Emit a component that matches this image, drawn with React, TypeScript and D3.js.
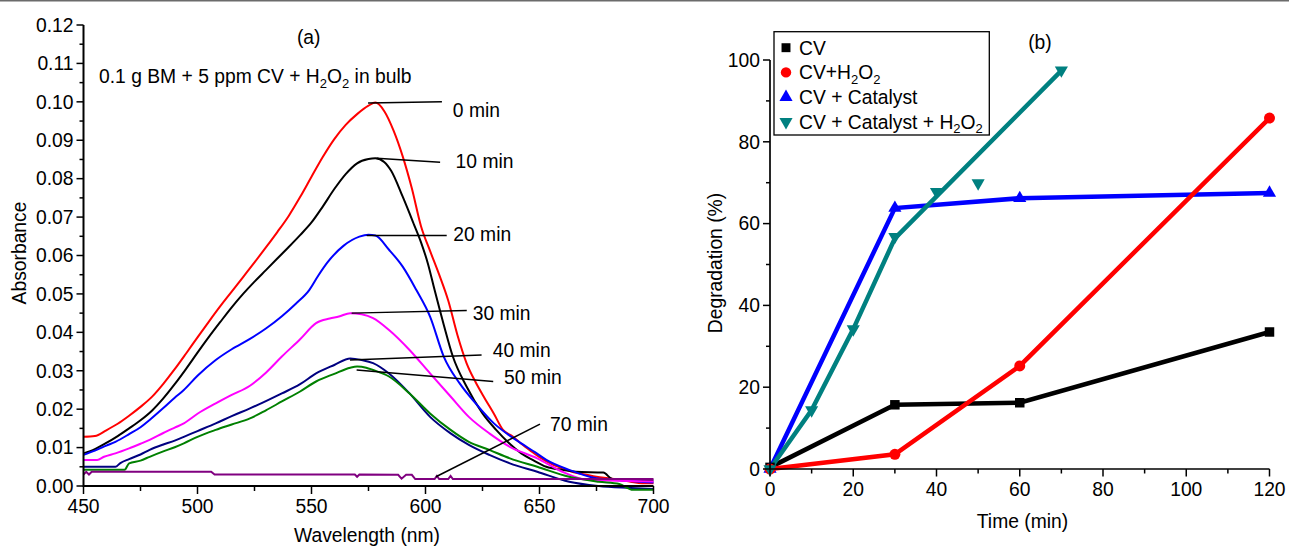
import React from 'react';
import * as d3 from 'd3';

// ---------- Panel (a) data ----------
const wlTicks = [450, 500, 550, 600, 650, 700];
const wlMinor = [475, 525, 575, 625, 675];
const absTicks = [0, 0.01, 0.02, 0.03, 0.04, 0.05, 0.06, 0.07, 0.08, 0.09, 0.1, 0.11, 0.12];
const absMinor = [0.005, 0.015, 0.025, 0.035, 0.045, 0.055, 0.065, 0.075, 0.085, 0.095, 0.105, 0.115];

const spec0min: [number, number][] = [
  [450, 0.0128], [455, 0.013], [460, 0.0145], [465, 0.0162], [470, 0.0183], [475, 0.0206], [480, 0.0232],
  [485, 0.0266], [490, 0.0304], [495, 0.0345], [500, 0.0387], [505, 0.0428], [510, 0.0468], [515, 0.0506],
  [520, 0.0544], [525, 0.0582], [530, 0.0621], [535, 0.0661], [540, 0.0703], [545, 0.0752], [550, 0.0805],
  [555, 0.0857], [560, 0.0903], [565, 0.094], [570, 0.0968], [575, 0.099], [578, 0.0998], [582, 0.0975],
  [586, 0.0925], [590, 0.0858], [594, 0.0775], [598, 0.0677], [602, 0.0612], [606, 0.055], [610, 0.0482],
  [614, 0.0393], [618, 0.032], [622, 0.027], [626, 0.0228], [630, 0.0188], [634, 0.0146], [638, 0.013],
  [642, 0.011], [646, 0.0092], [650, 0.0075], [655, 0.0058], [660, 0.0046], [665, 0.0036], [670, 0.003],
  [675, 0.0024], [680, 0.002], [685, 0.0016], [690, 0.0011], [695, 0.0007], [700, 0.0007],
];
const spec10min: [number, number][] = [
  [450, 0.0085], [455, 0.0096], [460, 0.0112], [465, 0.013], [470, 0.015], [475, 0.0171], [480, 0.0196],
  [485, 0.0228], [490, 0.0265], [495, 0.0305], [500, 0.0347], [505, 0.0388], [510, 0.0427], [515, 0.0465],
  [520, 0.05], [525, 0.0532], [530, 0.0562], [535, 0.0592], [540, 0.0622], [545, 0.0653], [550, 0.0686],
  [555, 0.0728], [560, 0.0773], [565, 0.0812], [570, 0.084], [575, 0.0851], [578, 0.0853], [582, 0.0843],
  [585, 0.082], [590, 0.0753], [595, 0.068], [598, 0.0635], [601, 0.058], [604, 0.051], [608, 0.042],
  [612, 0.0337], [618, 0.0259], [625, 0.0189], [631, 0.0146], [636, 0.0115], [642, 0.0085], [647, 0.0068],
  [653, 0.005], [660, 0.0042], [666, 0.0037], [678, 0.0035], [682, 0.0018], [690, 0.0016], [700, 0.0014],
];
const spec20min: [number, number][] = [
  [450, 0.0081], [455, 0.0092], [460, 0.0105], [464, 0.0115], [470, 0.0135], [475, 0.0153], [479, 0.0172],
  [485, 0.0203], [490, 0.023], [494, 0.025], [500, 0.0287], [508, 0.0328], [515, 0.0356], [523, 0.0383],
  [530, 0.041], [537, 0.0442], [543, 0.0474], [549, 0.051], [553, 0.0548], [557, 0.0582], [564, 0.0625],
  [571, 0.0649], [575, 0.0654], [578, 0.0652], [584, 0.0615], [590, 0.0571], [596, 0.051], [602, 0.0441],
  [608, 0.0337], [615, 0.0267], [622, 0.0215], [630, 0.0163], [636, 0.0135], [642, 0.0111], [648, 0.0088],
  [653, 0.0068], [663, 0.0042], [675, 0.002], [685, 0.0015], [700, 0.0009],
];
const spec30min: [number, number][] = [
  [450, 0.0068], [456, 0.0068], [459, 0.0076], [464, 0.0085], [470, 0.0098], [475, 0.011], [479, 0.012],
  [485, 0.0138], [490, 0.0152], [494, 0.0163], [500, 0.0188], [508, 0.0215], [515, 0.0237], [523, 0.0261],
  [530, 0.0295], [537, 0.0337], [545, 0.0382], [552, 0.0424], [558, 0.0436], [562, 0.0441], [567, 0.045],
  [572, 0.0447], [577, 0.0437], [584, 0.0406], [593, 0.0354], [602, 0.0293], [611, 0.0233], [619, 0.018],
  [628, 0.0137], [637, 0.0102], [649, 0.0072], [660, 0.0037], [671, 0.0016], [680, 0.0014], [700, 0.0012],
];
const spec40min: [number, number][] = [
  [450, 0.005], [464, 0.005], [466, 0.0059], [470, 0.007], [475, 0.0082], [479, 0.0094], [485, 0.0108],
  [490, 0.0118], [494, 0.0128], [500, 0.0143], [508, 0.0163], [515, 0.0182], [523, 0.0202], [530, 0.0221],
  [537, 0.0241], [545, 0.0265], [552, 0.0293], [560, 0.0315], [567, 0.0332], [572, 0.0328], [577, 0.032],
  [584, 0.0293], [593, 0.0241], [602, 0.018], [611, 0.0137], [619, 0.0107], [628, 0.0081], [637, 0.0059],
  [649, 0.0037], [663, 0.0011], [676, 0.0], [690, -0.0005], [700, -0.0008],
];
const spec50min: [number, number][] = [
  [450, 0.0042], [468, 0.0042], [470, 0.0059], [475, 0.0066], [479, 0.0076], [485, 0.009], [490, 0.0101],
  [494, 0.0111], [500, 0.0128], [508, 0.0146], [515, 0.016], [523, 0.0176], [530, 0.0197], [537, 0.022],
  [545, 0.0246], [552, 0.0272], [560, 0.0292], [567, 0.0308], [570, 0.0311], [574, 0.0308], [577, 0.0302],
  [584, 0.0285], [593, 0.0241], [602, 0.0189], [611, 0.0146], [619, 0.0115], [628, 0.0094], [637, 0.0072],
  [649, 0.005], [663, 0.0024], [676, 0.0011], [685, 0.0005], [691, -0.001], [700, -0.001],
];
const spec70min: [number, number][] = [
  [450, 0.003], [451.2, 0.0037], [452.4, 0.003], [453.6, 0.0037], [506, 0.0037], [507.5, 0.003],
  [569, 0.003], [570, 0.0024], [571, 0.003], [588, 0.0029], [589.5, 0.0019], [591.5, 0.0029],
  [594, 0.0029], [595.5, 0.0018], [604, 0.0018], [605, 0.0026], [606, 0.0018], [610, 0.0018],
  [611, 0.0026], [612, 0.0018], [700, 0.0018],
];

const specLabels = ['0 min', '10 min', '20 min', '30 min', '40 min', '50 min', '70 min'];
const specColors = ['#ff0000', '#000000', '#0000ff', '#ff00ff', '#000080', '#008000', '#800080'];
const specData = [spec0min, spec10min, spec20min, spec30min, spec40min, spec50min, spec70min];

// callout lines [nm1, A1, nm2, A2] and label anchor [nm, A]
const calloutLines = [
  [574.8, 0.0997, 607.2, 0.1], [578.6, 0.0853, 606.4, 0.0843], [574.2, 0.0652, 609.3, 0.0652],
  [567.6, 0.045, 618.1, 0.0457], [566.9, 0.0328, 624.6, 0.0341], [569.8, 0.0302, 629.7, 0.0272],
  [604.6, 0.0024, 650.2, 0.0161],
];
const calloutText = [
  [612, 0.0961], [613.2, 0.0827], [612.2, 0.0639], [620.7, 0.0432], [629.5, 0.0335], [634.4, 0.0266], [654.6, 0.0143],
];

// ---------- Panel (b) data ----------
const timeTicks = [0, 20, 40, 60, 80, 100, 120];
const timeMinor = [10, 30, 50, 70, 90, 110];
const degTicks = [0, 20, 40, 60, 80, 100];
const degMinor = [10, 30, 50, 70, 90];

const cvTime = [0, 30, 60, 120];
const cvDeg = [0.4, 15.7, 16.2, 33.5];
const cvH2O2Time = [0, 30, 60, 120];
const cvH2O2Deg = [0, 3.6, 25.2, 85.8];
const cvCatTime = [0, 30, 60, 120];
const cvCatDeg = [0, 63.8, 66.2, 67.5];
const cvCatH2O2Time = [0, 10, 20, 30, 40, 50, 70];
const cvCatH2O2Deg = [0, 14.4, 34.2, 56.8, 67.8, 69.9, 97.5];
const cvCatH2O2FitTime = [0, 10, 20, 30, 70];
const cvCatH2O2FitDeg = [0, 14.4, 34.2, 56.4, 97.4];

const FONT = "'Liberation Sans', Arial, Helvetica, sans-serif";

export default function App() {
  const W = 1289, H = 547;
  const xA = d3.scaleLinear().domain([450, 700]).range([83.5, 653.5]);
  const yA = d3.scaleLinear().domain([0, 0.12]).range([486, 25]);
  const xB = d3.scaleLinear().domain([0, 120]).range([770, 1269.5]);
  const yB = d3.scaleLinear().domain([0, 100]).range([469, 60]);

  const lineA = d3.line<[number, number]>().x(d => xA(d[0])).y(d => yA(d[1])).curve(d3.curveMonotoneX);
  const lineA70 = d3.line<[number, number]>().x(d => xA(d[0])).y(d => yA(d[1]));
  const lineB = d3.line<[number, number]>().x(d => xB(d[0])).y(d => yB(d[1]));

  const zip = (a: number[], b: number[]) => a.map((v, i) => [v, b[i]] as [number, number]);

  const seriesB = [
    { color: '#000000', sym: d3.symbolSquare, size: 90, rot: 0, pts: zip(cvTime, cvDeg), line: zip(cvTime, cvDeg) },
    { color: '#0000ff', sym: d3.symbolTriangle, size: 75, rot: 0, pts: zip(cvCatTime, cvCatDeg), line: zip(cvCatTime, cvCatDeg) },
    { color: '#ff0000', sym: d3.symbolCircle, size: 95, rot: 0, pts: zip(cvH2O2Time, cvH2O2Deg), line: zip(cvH2O2Time, cvH2O2Deg) },
    { color: '#008080', sym: d3.symbolTriangle, size: 75, rot: 180, pts: zip(cvCatH2O2Time, cvCatH2O2Deg), line: zip(cvCatH2O2FitTime, cvCatH2O2FitDeg) },
  ];

  const sub = (t: string) => (
    <tspan dy={4.5} fontSize={13}>{t}</tspan>
  );

  const legendItems = [
    { color: '#000000', sym: d3.symbolSquare, size: 80, rot: 0, label: <tspan>CV</tspan> },
    { color: '#ff0000', sym: d3.symbolCircle, size: 85, rot: 0, label: <><tspan>CV+H</tspan>{sub('2')}<tspan dy={-4.5}>O</tspan>{sub('2')}</> },
    { color: '#0000ff', sym: d3.symbolTriangle, size: 75, rot: 0, label: <tspan>CV + Catalyst</tspan> },
    { color: '#008080', sym: d3.symbolTriangle, size: 75, rot: 180, label: <><tspan>CV + Catalyst + H</tspan>{sub('2')}<tspan dy={-4.5}>O</tspan>{sub('2')}</> },
  ];

  return (
    <svg width={W} height={H} style={{ position: 'absolute', left: 0, top: 0, background: '#fff' }} fontFamily={FONT}>
      <rect x={0} y={0} width={W} height={H} fill="#fff" />
      <rect x={0} y={0} width={W} height={1.5} fill="#6b6b6b" />

      {/* ---------- Panel (a) ---------- */}
      <g>
        {specData.map((d, i) => (
          <path key={i} d={(i === 6 ? lineA70 : lineA)(d) || ''} fill="none" stroke={specColors[i]} strokeWidth={2} />
        ))}
        {calloutLines.map((c, i) => (
          <line key={'cl' + i} x1={xA(c[0])} y1={yA(c[1])} x2={xA(c[2])} y2={yA(c[3])} stroke="#000" strokeWidth={1.5} />
        ))}
        {calloutText.map((c, i) => (
          <text key={'ct' + i} x={xA(c[0])} y={yA(c[1])} fontSize={19.3} fill="#000">{specLabels[i]}</text>
        ))}

        {/* axes */}
        <line x1={xA(450)} y1={yA(0)} x2={xA(700)} y2={yA(0)} stroke="#000" strokeWidth={2} />
        <line x1={xA(450)} y1={yA(0) + 1} x2={xA(450)} y2={yA(0.12)} stroke="#000" strokeWidth={2} />
        {absTicks.map(t => (
          <g key={'ya' + t}>
            <line x1={xA(450) - 7} x2={xA(450)} y1={yA(t)} y2={yA(t)} stroke="#000" strokeWidth={1.5} />
            <text x={xA(450) - 10} y={yA(t)} dy="0.35em" textAnchor="end" fontSize={19.3}>{t.toFixed(2)}</text>
          </g>
        ))}
        {absMinor.map(t => (
          <line key={'yam' + t} x1={xA(450) - 4} x2={xA(450)} y1={yA(t)} y2={yA(t)} stroke="#000" strokeWidth={1.5} />
        ))}
        {wlTicks.map(t => (
          <g key={'xa' + t}>
            <line x1={xA(t)} x2={xA(t)} y1={yA(0)} y2={yA(0) + 8} stroke="#000" strokeWidth={1.5} />
            <text x={xA(t)} y={yA(0) + 27} textAnchor="middle" fontSize={19.3}>{t}</text>
          </g>
        ))}
        {wlMinor.map(t => (
          <line key={'xam' + t} x1={xA(t)} x2={xA(t)} y1={yA(0)} y2={yA(0) + 5} stroke="#000" strokeWidth={1.5} />
        ))}
        <text transform="translate(26,253) rotate(-90)" textAnchor="middle" fontSize={19.3}>Absorbance</text>
        <text x={367} y={542} textAnchor="middle" fontSize={19.3}>Wavelength (nm)</text>
        <text x={308.7} y={44} textAnchor="middle" fontSize={19.3}>(a)</text>
        <text x={99} y={83} fontSize={19.3}>
          <tspan>0.1 g BM + 5 ppm CV + H</tspan>{sub('2')}<tspan dy={-4.5}>O</tspan>{sub('2')}<tspan dy={-4.5}> in bulb</tspan>
        </text>
      </g>

      {/* ---------- Panel (b) ---------- */}
      <g>
        {seriesB.map((s, i) => (
          <path key={'lb' + i} d={lineB(s.line) || ''} fill="none" stroke={s.color} strokeWidth={4.5} strokeLinejoin="miter" />
        ))}
        {seriesB.map((s, i) => (
          <g key={'mb' + i}>
            {s.pts.map((p, j) => (
              <path key={j} d={d3.symbol().type(s.sym).size(s.size)() || ''}
                transform={`translate(${xB(p[0])},${yB(p[1])}) rotate(${s.rot})`} fill={s.color} />
            ))}
          </g>
        ))}

        <line x1={xB(0)} y1={yB(0)} x2={xB(120)} y2={yB(0)} stroke="#000" strokeWidth={1.7} />
        <line x1={xB(0)} y1={yB(0)} x2={xB(0)} y2={yB(100)} stroke="#000" strokeWidth={1.7} />
        {degTicks.map(t => (
          <g key={'yb' + t}>
            <line x1={xB(0) - 7} x2={xB(0)} y1={yB(t)} y2={yB(t)} stroke="#000" strokeWidth={1.5} />
            <text x={xB(0) - 10} y={yB(t)} dy="0.35em" textAnchor="end" fontSize={19.3}>{t}</text>
          </g>
        ))}
        {degMinor.map(t => (
          <line key={'ybm' + t} x1={xB(0) - 4} x2={xB(0)} y1={yB(t)} y2={yB(t)} stroke="#000" strokeWidth={1.5} />
        ))}
        {timeTicks.map(t => (
          <g key={'xb' + t}>
            <line x1={xB(t)} x2={xB(t)} y1={yB(0)} y2={yB(0) + 7.5} stroke="#000" strokeWidth={1.5} />
            <text x={xB(t)} y={yB(0) + 27} textAnchor="middle" fontSize={19.3}>{t}</text>
          </g>
        ))}
        {timeMinor.map(t => (
          <line key={'xbm' + t} x1={xB(t)} x2={xB(t)} y1={yB(0)} y2={yB(0) + 4.5} stroke="#000" strokeWidth={1.5} />
        ))}
        <text transform="translate(722,263) rotate(-90)" textAnchor="middle" fontSize={19.3}>Degradation (%)</text>
        <text x={1022.5} y={528} textAnchor="middle" fontSize={19.3}>Time (min)</text>
        <text x={1040} y={49} textAnchor="middle" fontSize={19.3}>(b)</text>

        {/* legend */}
        <rect x={774} y={31.7} width={215.3} height={103.3} fill="#fff" stroke="#000" strokeWidth={1.3} />
        {legendItems.map((it, i) => {
          const cy = 47.7 + i * 24.7;
          return (
            <g key={'lg' + i}>
              <path d={d3.symbol().type(it.sym).size(it.size)() || ''} transform={`translate(786,${cy}) rotate(${it.rot})`} fill={it.color} />
              <text x={799} y={cy + 6.8} fontSize={19.3}>{it.label}</text>
            </g>
          );
        })}
      </g>
    </svg>
  );
}
